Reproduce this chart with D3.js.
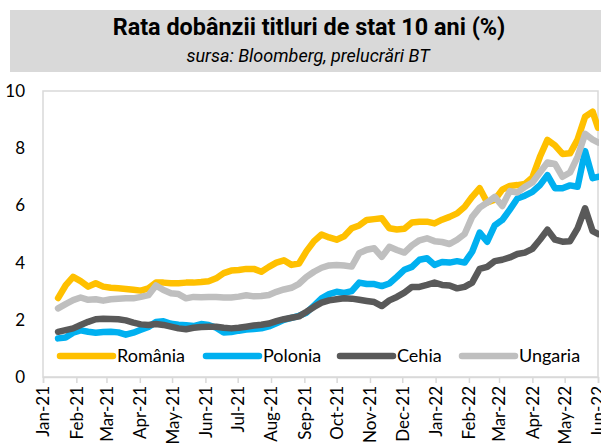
<!DOCTYPE html>
<html>
<head>
<meta charset="utf-8">
<script src="https://cdn.jsdelivr.net/npm/d3@7"></script>
<style>
  html, body { margin: 0; padding: 0; background: #fff; }
  svg { display: block; }
</style>
</head>
<body>
<svg id="chart" width="601" height="447"></svg>
<script>
const titleText = "Rata dobânzii titluri de stat 10 ani (%)";
const subtitleText = "sursa: Bloomberg, prelucrări BT";

const seriesNames = ["România", "Polonia", "Cehia", "Ungaria"];
const seriesColors = ["#FFC000", "#00B0F0", "#595959", "#BFBFBF"];

const monthTicks = ["2021-01-01","2021-02-01","2021-03-01","2021-04-01","2021-05-01","2021-06-01",
  "2021-07-01","2021-08-01","2021-09-01","2021-10-01","2021-11-01","2021-12-01",
  "2022-01-01","2022-02-01","2022-03-01","2022-04-01","2022-05-01","2022-06-01"];
const yTicks = [0, 2, 4, 6, 8, 10];

const dates = ["2021-01-15","2021-01-22","2021-01-29","2021-02-05","2021-02-12","2021-02-19","2021-02-26",
  "2021-03-05","2021-03-12","2021-03-19","2021-03-26","2021-04-02","2021-04-09","2021-04-16","2021-04-23",
  "2021-04-30","2021-05-07","2021-05-14","2021-05-21","2021-05-28","2021-06-04","2021-06-11","2021-06-18",
  "2021-06-25","2021-07-02","2021-07-09","2021-07-16","2021-07-23","2021-07-30","2021-08-06","2021-08-13",
  "2021-08-20","2021-08-27","2021-09-03","2021-09-10","2021-09-17","2021-09-24","2021-10-01","2021-10-08",
  "2021-10-15","2021-10-22","2021-10-29","2021-11-05","2021-11-12","2021-11-19","2021-11-26","2021-12-03",
  "2021-12-10","2021-12-17","2021-12-24","2021-12-31","2022-01-07","2022-01-14","2022-01-21","2022-01-28",
  "2022-02-04","2022-02-11","2022-02-18","2022-02-25","2022-03-04","2022-03-11","2022-03-18","2022-03-25",
  "2022-04-01","2022-04-08","2022-04-15","2022-04-22","2022-04-29","2022-05-06","2022-05-13","2022-05-20",
  "2022-05-27","2022-06-01"];

const romania = [2.76,3.2,3.5,3.35,3.16,3.28,3.16,3.12,3.1,3.08,3.05,3.02,3.1,3.3,3.3,3.28,3.28,3.3,3.3,3.32,
  3.35,3.45,3.63,3.72,3.74,3.78,3.78,3.68,3.85,4.0,4.08,3.92,3.97,4.4,4.75,4.98,4.88,4.8,4.92,5.2,5.3,5.49,
  5.52,5.55,5.2,5.16,5.18,5.4,5.43,5.43,5.37,5.5,5.6,5.72,5.95,6.3,6.6,6.1,6.2,6.55,6.68,6.71,6.75,6.98,
  7.7,8.29,8.1,7.8,7.82,8.3,9.1,9.28,8.72];
const polonia = [1.35,1.38,1.55,1.63,1.58,1.55,1.57,1.58,1.56,1.48,1.55,1.65,1.75,1.92,1.95,1.86,1.83,1.81,
  1.78,1.85,1.82,1.72,1.56,1.57,1.62,1.66,1.68,1.7,1.77,1.88,2.0,2.07,2.14,2.25,2.5,2.75,2.9,2.98,2.94,3.0,
  3.3,3.25,3.25,3.18,3.27,3.5,3.75,3.85,4.1,4.15,3.92,4.02,4.0,4.05,4.0,4.38,5.05,4.73,5.3,5.49,5.85,6.24,
  6.34,6.47,6.71,7.06,6.6,6.6,6.7,6.65,7.9,6.95,7.0];
const cehia = [1.58,1.64,1.7,1.82,1.93,2.02,2.04,2.03,2.02,1.98,1.9,1.84,1.82,1.85,1.82,1.76,1.7,1.67,1.72,
  1.75,1.76,1.76,1.72,1.7,1.72,1.76,1.8,1.83,1.87,1.95,2.02,2.07,2.12,2.28,2.45,2.6,2.68,2.72,2.75,2.74,2.7,
  2.66,2.62,2.48,2.68,2.8,2.95,3.15,3.15,3.22,3.3,3.22,3.2,3.1,3.15,3.3,3.78,3.85,4.05,4.1,4.18,4.3,4.35,
  4.48,4.8,5.15,4.8,4.73,4.75,5.2,5.9,5.1,5.0];
const ungaria = [2.4,2.55,2.69,2.78,2.7,2.72,2.67,2.72,2.74,2.75,2.75,2.8,2.86,3.2,3.04,2.93,2.9,2.75,2.8,
  2.79,2.8,2.8,2.78,2.78,2.81,2.86,2.82,2.83,2.87,2.98,3.06,3.12,3.26,3.5,3.68,3.82,3.9,3.92,3.9,3.86,4.33,
  4.45,4.5,4.2,4.55,4.44,4.35,4.6,4.78,4.85,4.75,4.72,4.65,4.8,5.0,5.6,5.92,6.1,6.3,5.98,6.5,6.45,6.65,6.8,
  7.15,7.5,7.45,7.0,7.15,7.7,8.5,8.3,8.2];

const seriesValues = [romania, polonia, cehia, ungaria];

const parse = d3.utcParse("%Y-%m-%d");
const fmt = d3.utcFormat("%b-%y");

const svg = d3.select("#chart");
const W = 601, H = 447;
const plot = { left: 43, right: 598, top: 91, bottom: 377 };
const uiFont = "Lato, 'Open Sans', sans-serif";

// Title block
svg.append("rect").attr("x", 10).attr("y", 10).attr("width", W - 10).attr("height", 62)
  .attr("fill", "#D9D9D9");
svg.append("text").attr("x", 309).attr("y", 35).attr("text-anchor", "middle")
  .attr("font-family", "Roboto, sans-serif").attr("font-weight", "bold")
  .attr("font-size", 23.4).attr("fill", "#000").text(titleText);
svg.append("text").attr("x", 308).attr("y", 62).attr("text-anchor", "middle")
  .attr("font-family", "Roboto, sans-serif").attr("font-style", "italic")
  .attr("font-size", 18).attr("fill", "#000").text(subtitleText);

const x = d3.scaleUtc().domain([parse(monthTicks[0]), parse(monthTicks[monthTicks.length - 1])])
  .range([plot.left, plot.right]);
const y = d3.scaleLinear().domain([0, 10]).range([plot.bottom, plot.top]);

// plot border
svg.append("rect").attr("x", plot.left).attr("y", plot.top)
  .attr("width", plot.right - plot.left).attr("height", plot.bottom - plot.top)
  .attr("fill", "none").attr("stroke", "#D9D9D9").attr("stroke-width", 1.5);

// y axis labels
const yAxis = d3.axisLeft(y).tickValues(yTicks).tickSize(0).tickPadding(0).tickFormat(d3.format("d"));
const gy = svg.append("g").attr("transform", `translate(25,0)`).call(yAxis);
gy.select(".domain").remove();
gy.selectAll("text").attr("font-family", uiFont).attr("font-size", 17).attr("fill", "#000");

// x axis
const xAxis = d3.axisBottom(x).tickValues(monthTicks.map(parse)).tickSize(6).tickFormat(fmt);
const gx = svg.append("g").attr("transform", `translate(0,${plot.bottom})`).call(xAxis);
gx.select(".domain").attr("stroke", "#D9D9D9").attr("stroke-width", 1.5);
gx.selectAll(".tick line").attr("stroke", "#D9D9D9").attr("stroke-width", 1.5);
gx.selectAll("text")
  .attr("font-family", uiFont).attr("font-size", 17).attr("fill", "#000")
  .attr("transform", "rotate(-90)")
  .attr("text-anchor", "end").attr("x", -9).attr("y", 0).attr("dy", "0.35em");

// clip
svg.append("clipPath").attr("id", "clip").append("rect")
  .attr("x", plot.left).attr("y", plot.top - 10).attr("width", plot.right - plot.left + 1)
  .attr("height", plot.bottom - plot.top + 20);

const line = d3.line().x(d => x(d[0])).y(d => y(d[1])).curve(d3.curveLinear);
const dateObjs = dates.map(parse);
const gl = svg.append("g").attr("clip-path", "url(#clip)");
seriesValues.forEach((vals, i) => {
  gl.append("path")
    .datum(dateObjs.map((d, j) => [d, vals[j]]))
    .attr("fill", "none").attr("stroke", seriesColors[i]).attr("stroke-width", 6.5)
    .attr("stroke-linejoin", "round").attr("stroke-linecap", "round")
    .attr("d", line);
});

// legend
const legendX = [60, 206, 340, 462];
const legendY = 356;
seriesNames.forEach((name, i) => {
  const g = svg.append("g").attr("transform", `translate(${legendX[i]},${legendY})`);
  g.append("line").attr("x1", 0).attr("x2", 53).attr("y1", 0).attr("y2", 0)
    .attr("stroke", seriesColors[i]).attr("stroke-width", 6.5).attr("stroke-linecap", "round");
  g.append("text").attr("x", 57).attr("y", 0).attr("dy", "0.35em")
    .attr("font-family", uiFont).attr("font-size", 18).attr("fill", "#000").text(name);
});
</script>
</body>
</html>
